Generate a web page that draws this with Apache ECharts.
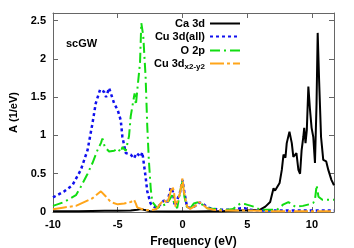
<!DOCTYPE html>
<html><head><meta charset="utf-8">
<script src="https://cdn.jsdelivr.net/npm/echarts@6/dist/echarts.min.js"></script>
<style>html,body{margin:0;padding:0;background:#fff}#c{width:354px;height:248px}</style>
</head><body><div id="c"></div>
<script>
const xTicks = [-10, -5, 0, 5, 10];
const yTicks = [0, 0.5, 1, 1.5, 2, 2.5];
const seriesNames = ['Ca 3d', 'Cu 3d(all)', 'O 2p', 'Cu 3dx2-y2'];

const caX = [-10,-8,-6,-5,-4,-3.5,-3.2,-2.9,-2.5,-1,0,1,2,3,4,4.5,5,5.5,6,6.4,6.77,7.03,7.15,7.26,7.5,7.67,7.8,7.95,8.05,8.26,8.44,8.56,8.7,8.8,8.95,9.08,9.2,9.33,9.4,9.5,9.6,9.72,9.85,9.97,10.1,10.23,10.35,10.44,10.55,10.7,10.87,11.1,11.26,11.5,11.7];
const caY = [0.01,0.01,0.015,0.015,0.02,0.03,0.04,0.025,0.01,0.005,0.005,0.005,0.01,0.01,0.015,0.02,0.02,0.025,0.03,0.07,0.13,0.31,0.28,0.26,0.38,0.55,0.75,0.71,0.9,1.05,0.9,0.72,0.7,0.77,0.55,0.5,0.81,0.98,1.1,0.9,1.07,1.64,1.33,1.1,0.98,0.64,1.4,2.34,1.72,0.98,0.68,0.66,0.55,0.42,0.35];

const cuX = [-10,-9.13,-8.5,-7.85,-7.33,-6.95,-6.7,-6.36,-6.05,-5.9,-5.67,-5.28,-5.0,-4.77,-4.64,-4.38,-4.0,-3.74,-3.55,-3.23,-3.1,-2.85,-2.72,-2.46,-2.2,-2.0,-1.7,-1.44,-1.18,-0.9,-0.75,-0.6,-0.45,-0.2,0,0.12,0.35,0.6,1.0,1.3,1.5,1.9,2.4,3,3.5,4,4.5,4.8,5.2,6,7,8,9,10,11,11.7];
const cuY = [0.19,0.27,0.35,0.55,0.81,1.16,1.42,1.6,1.57,1.5,1.62,1.42,1.33,1.2,0.98,0.77,0.75,0.70,0.77,0.72,0.78,0.46,0.27,0.11,0.07,0.05,0.1,0.15,0.12,0.32,0.27,0.08,0.06,0.25,0.42,0.28,0.07,0.05,0.08,0.12,0.12,0.06,0.04,0.03,0.03,0.03,0.05,0.05,0.03,0.02,0.02,0.02,0.02,0.02,0.02,0.02];

const oX = [-10,-9.13,-8.23,-7.85,-7.33,-6.95,-6.56,-6.3,-6.18,-6.0,-5.67,-5.28,-5.0,-4.77,-4.64,-4.38,-4.13,-4.0,-3.87,-3.7,-3.6,-3.44,-3.28,-3.18,-3.03,-2.85,-2.72,-2.6,-2.45,-2.33,-1.95,-1.6,-1.18,-0.8,-0.67,-0.41,-0.15,0,0.15,0.36,0.6,0.87,1.26,1.5,1.9,2.5,3,3.5,3.9,4.2,4.46,4.9,5.5,6,7.3,7.8,8.18,8.7,9.3,9.77,10.1,10.23,10.36,10.5,10.8,11.1,11.4,11.7];
const oY = [0.08,0.13,0.22,0.33,0.5,0.64,0.81,0.9,0.96,0.85,0.79,0.8,0.83,0.78,0.85,0.8,0.99,1.25,1.38,1.55,1.4,1.68,1.95,2.47,2.3,1.77,1.12,0.68,0.3,0.13,0.05,0.08,0.11,0.22,0.13,0.05,0.29,0.4,0.2,0.05,0.05,0.11,0.13,0.1,0.05,0.04,0.03,0.03,0.04,0.08,0.11,0.1,0.07,0.03,0.03,0.1,0.13,0.07,0.08,0.1,0.12,0.16,0.35,0.2,0.16,0.16,0.16,0.16];

const dX = [-10,-9.13,-8.23,-7.6,-6.95,-6.3,-6.2,-5.9,-5.54,-5.0,-4.5,-4.0,-3.74,-3.6,-3.5,-3.0,-2.5,-2.0,-1.7,-1.44,-1.18,-0.8,-0.67,-0.54,-0.41,-0.2,0,0.1,0.36,0.6,1.0,1.26,1.5,1.9,2.4,3,4,5,6,7,8,9,10,11,11.7];
const dY = [0.035,0.06,0.08,0.13,0.18,0.27,0.29,0.2,0.13,0.1,0.11,0.13,0.16,0.11,0.06,0.03,0.02,0.04,0.11,0.16,0.11,0.33,0.28,0.07,0.05,0.24,0.44,0.27,0.07,0.04,0.08,0.13,0.11,0.05,0.03,0.02,0.02,0.02,0.015,0.01,0.01,0.01,0.01,0.01,0.01];

const pairs = (xs, ys) => xs.map((x, i) => [x, ys[i]]);
const FONT = 'Liberation Sans, Arial, sans-serif';
const frame = '#666';

const baseAxis = {
  type: 'value', interval: 5, min: -10, max: 11.7,
  axisLine: { show: true, onZero: false, lineStyle: { color: frame, width: 1 } },
  axisTick: { show: true, inside: true, length: 5, lineStyle: { color: frame } },
  splitLine: { show: false }
};
const yBase = {
  type: 'value', min: 0, max: 2.6, interval: 0.5,
  axisLine: { show: true, onZero: false, lineStyle: { color: frame, width: 1 } },
  axisTick: { show: true, inside: true, length: 5, lineStyle: { color: frame } },
  splitLine: { show: false }
};

const styles = [
  { color: '#000000', width: 2, type: 'solid' },
  { color: '#1010ee', width: 2.5, type: [3, 3] },
  { color: '#11dd11', width: 2, type: [10, 4, 2, 4] },
  { color: '#ffa51a', width: 2, type: [14, 3, 3, 3] }
];
const dataSets = [pairs(caX, caY), pairs(cuX, cuY), pairs(oX, oY), pairs(dX, dY)];
const legendTops = [18, 31, 45, 58];

const chart = echarts.init(document.getElementById('c'), null, { renderer: 'canvas' });
chart.setOption({
  animation: false,
  backgroundColor: '#fff',
  grid: { left: 53, right: 20, top: 13, bottom: 36, containLabel: false, outerBoundsMode: 'none' },
  xAxis: [
    Object.assign({}, baseAxis, {
      position: 'bottom',
      name: 'Frequency (eV)', nameLocation: 'middle', nameGap: 24,
      nameTextStyle: { fontFamily: FONT, fontWeight: 'bold', fontSize: 12, color: '#000' },
      axisLabel: { showMaxLabel: false, margin: 7, fontFamily: FONT, fontWeight: 'bold', fontSize: 11, color: '#000', formatter: v => xTicks.includes(v) ? String(v) : '' }
    }),
    Object.assign({}, baseAxis, { position: 'top', axisLabel: { show: false } })
  ],
  yAxis: [
    Object.assign({}, yBase, {
      position: 'left',
      name: 'A (1/eV)', nameLocation: 'middle', nameGap: 33, nameRotate: 90,
      nameTextStyle: { fontFamily: FONT, fontWeight: 'bold', fontSize: 11, color: '#000' },
      axisLabel: { showMaxLabel: false, margin: 7, fontFamily: FONT, fontWeight: 'bold', fontSize: 11, color: '#000', formatter: v => yTicks.includes(v) ? String(v) : '' }
    }),
    Object.assign({}, yBase, { position: 'right', axisLabel: { show: false } })
  ],
  legend: seriesNames.map((n, i) => ({
    data: [n], right: 113, top: legendTops[i], orient: 'vertical', align: 'right',
    itemWidth: 30, itemHeight: 10, selectedMode: false, padding: 0,
    itemStyle: { opacity: 0 },
    textStyle: {
      fontFamily: FONT, fontWeight: 'bold', fontSize: 11, color: '#000',
      rich: {
        b: { fontFamily: FONT, fontWeight: 'bold', fontSize: 11, color: '#000' },
        s: { fontFamily: FONT, fontWeight: 'bold', fontSize: 8, color: '#000', padding: [7, 0, 0, 0] }
      }
    },
    formatter: name => name === 'Cu 3dx2-y2' ? '{b|Cu 3d}{s|x2-y2}' : name
  })),
  graphic: [{
    type: 'text', left: 66, top: 38,
    style: { text: 'scGW', font: 'bold 11px ' + FONT, fill: '#000' }
  }],
  series: seriesNames.map((n, i) => ({
    name: n, type: 'line', data: dataSets[i], symbol: 'none', smooth: false,
    lineStyle: styles[i], itemStyle: { color: styles[i].color },
    z: 2 + i, clip: true
  }))
});
</script></body></html>
